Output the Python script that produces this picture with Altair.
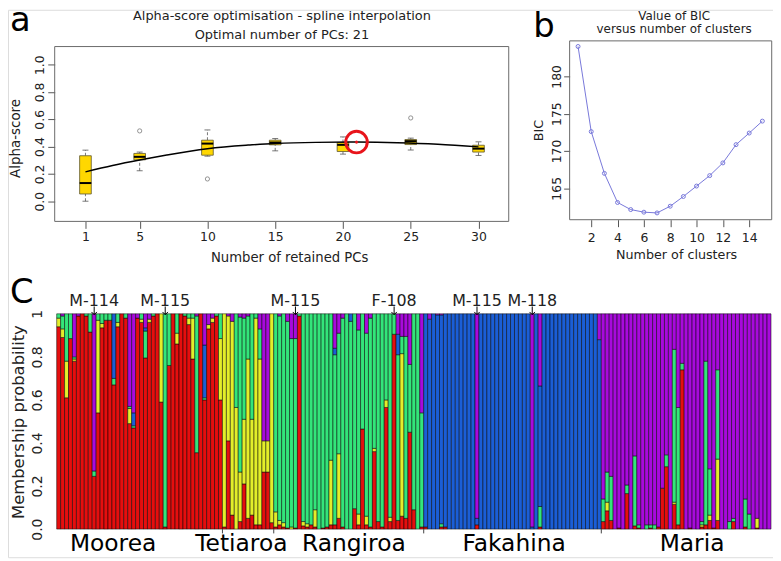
import altair as alt
import pandas as pd

W, H = 770, 551
FONT = "DejaVu Sans"
INK = "#222222"

# ---------------- panel a : alpha-score optimisation ----------------
pcs_retained = [1, 5, 10, 15, 20, 25, 30]
alpha_whisker_lo = [0.000, 0.223, 0.330, 0.369, 0.345, 0.375, 0.335]
alpha_q1 = [0.053, 0.303, 0.337, 0.413, 0.364, 0.415, 0.360]
alpha_median = [0.133, 0.325, 0.422, 0.430, 0.413, 0.440, 0.385]
alpha_q3 = [0.333, 0.350, 0.447, 0.447, 0.430, 0.452, 0.410]
alpha_whisker_hi = [0.374, 0.360, 0.522, 0.459, 0.471, 0.462, 0.435]
outlier_pc = [5, 10, 25]
outlier_alpha = [0.515, 0.163, 0.610]
spline_pc = [1, 3, 5, 7, 10, 13, 15, 18, 21, 24, 27, 30]
spline_alpha = [0.215, 0.262, 0.302, 0.338, 0.385, 0.411, 0.423, 0.431, 0.433, 0.429, 0.418, 0.398]
optimal_pc = [21]
optimal_alpha = [0.433]
title_a = ["Alpha-score optimisation - spline interpolation", "Optimal number of PCs: 21"]
alpha_ticks = [0.0, 0.2, 0.4, 0.6, 0.8, 1.0]

# ---------------- panel b : BIC ----------------
n_clusters = list(range(1, 16))
bic_values = [184.0, 172.6, 167.0, 163.1, 162.15, 161.8, 161.7, 162.6, 163.9,
              165.3, 166.7, 168.4, 170.85, 172.4, 174.0]
title_b = ["Value of BIC", "versus number of clusters"]
cluster_ticks = [2, 4, 6, 8, 10, 12, 14]
bic_ticks = [165, 170, 175, 180]

# ---------------- panel c : membership probabilities ----------------
cluster_names = ["1", "2", "3", "4", "5"]
cluster_colors = ["#E50E0E", "#E3EE2A", "#33E57A", "#1B5ED6", "#A80ADC"]
pop_names = ["Moorea", "Tetiaroa", "Rangiroa", "Fakahina", "Maria"]
pop_label_x = [14.3, 46.8, 75.3, 115.9, 161.0]
ann_text = ["M-114", "M-115", "M-115", "F-108", "M-115", "M-118"]
ann_bar = [9, 27, 60, 85, 106, 120]
prob_ticks = [0, 0.2, 0.4, 0.6, 0.8, 1.0]

R = [1, 0, 0, 0, 0]
B = [0, 0, 0, 1, 0]
P = [0, 0, 0, 0, 1]

moorea = [
    [0.94, 0.04, 0.02, 0, 0], [0.89, 0.04, 0.06, 0, 0.01], [0.61, 0.17, 0.22, 0, 0],
    [0.885, 0, 0.115, 0, 0], [0.78, 0.01, 0.01, 0, 0.20], [0.99, 0, 0, 0, 0.01], R,
    [0.99, 0, 0.01, 0, 0], [0.915, 0, 0.085, 0, 0], [0.245, 0, 0.025, 0, 0.73],
    [0.54, 0.43, 0.03, 0, 0], [0.935, 0.02, 0.045, 0, 0], [0.97, 0, 0.03, 0, 0],
    [0.97, 0, 0.03, 0, 0], [0.67, 0, 0.03, 0.30, 0], [0.94, 0.02, 0.04, 0, 0], R,
    [0.98, 0, 0.02, 0, 0], [0.49, 0.07, 0.01, 0, 0.43], [0.47, 0, 0.01, 0.06, 0.46],
    [0.98, 0, 0, 0, 0.02], [0.96, 0.015, 0.025, 0, 0], [0.795, 0, 0.125, 0.015, 0.065],
    [0.96, 0.015, 0, 0, 0.025], [0.99, 0, 0.01, 0, 0], R, [0.59, 0.41, 0, 0, 0],
    [0.01, 0, 0.99, 0, 0], [0.76, 0, 0.24, 0, 0], R, [0.86, 0.05, 0.09, 0, 0], R,
    [0.99, 0, 0.01, 0, 0], [0.95, 0.03, 0.02, 0, 0], [0.79, 0.19, 0.02, 0, 0],
    [0.355, 0, 0.635, 0, 0.01], R, [0.60, 0, 0.01, 0.245, 0.145], [0.93, 0.02, 0, 0, 0.05],
    [0.96, 0.02, 0, 0, 0.02], [0.99, 0, 0.01, 0, 0], [0.60, 0.285, 0.115, 0, 0],
]
tetiaroa = [
    [0.01, 0.99, 0, 0, 0], [0.41, 0.58, 0, 0, 0.01], [0.065, 0.90, 0, 0, 0.035],
    [0, 0.565, 0.435, 0, 0], [0.035, 0.23, 0.72, 0, 0.015], [0.21, 0.30, 0.47, 0, 0.02],
    [0.05, 0.74, 0.20, 0, 0.01], [0.065, 0.445, 0.49, 0, 0], [0.02, 0.96, 0.02, 0, 0],
    [0.02, 0.77, 0.14, 0, 0.07], [0.265, 0.145, 0, 0, 0.59], [0.265, 0.145, 0, 0, 0.59],
    [0.03, 0.97, 0, 0, 0],
]
rangiroa = [
    [0.01, 0.07, 0.92, 0, 0], [0.02, 0.02, 0.95, 0, 0.01], [0.01, 0.02, 0.97, 0, 0],
    [0.005, 0, 0.96, 0, 0.035], [0, 0.01, 0.875, 0, 0.115], [0.005, 0, 0.88, 0, 0.115],
    [0.99, 0, 0.01, 0, 0], [0.015, 0.02, 0.965, 0, 0], [0.01, 0.015, 0.975, 0, 0],
    [0.02, 0, 0.98, 0, 0], [0.01, 0.08, 0.91, 0, 0], [0, 0, 1, 0, 0],
    [0.005, 0, 0.995, 0, 0], [0.01, 0, 0.99, 0, 0], [0.02, 0.30, 0.68, 0, 0],
    [0.02, 0, 0.79, 0.03, 0.16], [0.05, 0.30, 0.56, 0, 0.09], [0.01, 0, 0.97, 0, 0.02],
    [0, 0, 1, 0, 0], [0, 0, 0.965, 0.035, 0], [0.095, 0, 0.905, 0, 0],
    [0.02, 0.05, 0.855, 0, 0.075], [0.465, 0, 0.535, 0, 0], [0.02, 0.04, 0.85, 0, 0.09],
    [0.01, 0, 0.97, 0, 0.02], [0.36, 0.015, 0.625, 0, 0], [0.035, 0, 0.965, 0, 0],
    [0.01, 0, 0.99, 0, 0], [0.565, 0.035, 0.40, 0, 0], [0.035, 0.02, 0.945, 0, 0],
    [0.905, 0, 0.095, 0, 0], [0.04, 0, 0.77, 0.095, 0.095], [0.06, 0.755, 0.08, 0, 0.105],
    [0.05, 0, 0.845, 0, 0.105], [0.45, 0, 0.315, 0, 0.235], [0.09, 0, 0.91, 0, 0],
    [0, 0, 1, 0, 0], [0.01, 0, 0.53, 0, 0.46],
]
fakahina = [
    [0.01, 0, 0, 0.99, 0], [0, 0, 0, 0.975, 0.025], B, [0, 0, 0, 0.995, 0.005],
    [0.01, 0, 0.015, 0.97, 0.005], [0.01, 0, 0, 0.99, 0],
    B, B, B, B, B, B, B,
    [0.02, 0, 0, 0.03, 0.95],
    B, B, B, B, B, B, B, B, B, B, B, B, B,
    [0, 0, 0, 0.01, 0.99], B, [0.01, 0, 0.095, 0.56, 0.335],
    B, B, B, B, B, B, B, B, B, B, B, B, B, B,
    [0, 0, 0, 0.88, 0.12],
]
maria = [
    [0.035, 0, 0.105, 0, 0.86], [0.085, 0.04, 0.14, 0, 0.735], [0.04, 0, 0.205, 0, 0.755],
    P, [0.005, 0, 0, 0, 0.995], P, [0.165, 0, 0.04, 0, 0.795], P,
    [0.015, 0, 0.325, 0, 0.66], [0.005, 0, 0.015, 0, 0.98], P, [0, 0, 0.02, 0, 0.98],
    [0.005, 0, 0.015, 0, 0.98], [0, 0, 0.02, 0, 0.98], [0.01, 0, 0, 0, 0.99],
    [0.19, 0, 0, 0, 0.81], [0.29, 0, 0.055, 0, 0.655], P, [0.115, 0.01, 0.71, 0, 0.165],
    [0.02, 0, 0.545, 0, 0.435], [0.74, 0, 0.03, 0, 0.23], P, [0.005, 0, 0, 0, 0.995], P, P,
    [0.01, 0.01, 0.015, 0, 0.965], [0.02, 0, 0.76, 0, 0.22], [0.04, 0.025, 0.215, 0, 0.72],
    [0.005, 0, 0, 0, 0.995], [0.04, 0.285, 0.415, 0, 0.26], P, P, [0, 0, 0.035, 0, 0.965],
    [0.035, 0, 0.015, 0, 0.95], P, P, [0.01, 0, 0.13, 0, 0.86], [0, 0, 0.07, 0, 0.93], P,
    [0.005, 0.045, 0, 0, 0.95], P, P, P,
]
populations = [moorea, tetiaroa, rangiroa, fakahina, maria]

# ---------------- scales (pixel ranges place each panel) ----------------
A_X = alt.Scale(domain=[-1.27, 32.23], range=[47, 504], nice=False, zero=False)
A_Y = alt.Scale(domain=[-0.148, 1.133], range=[213, 37], nice=False, zero=False)
B_X = alt.Scale(domain=[0.36, 15.71], range=[565.3, 768.7], nice=False, zero=False)
B_Y = alt.Scale(domain=[160.79, 184.75], range=[211.3, 31.3], nice=False, zero=False)
n_bars = sum(len(p) for p in populations)
C_X = alt.Scale(domain=[0, n_bars], range=[49, 768], nice=False, zero=False)
C_Y = alt.Scale(domain=[0, 1], range=[522.7, 306], nice=False, zero=False)


def enc(xs, ys, x, y, x2=None, y2=None, xaxis=None, yaxis=None, **extra):
    e = dict(x=alt.X(x, type="quantitative", scale=xs, axis=xaxis),
             y=alt.Y(y, type="quantitative", scale=ys, axis=yaxis))
    if x2:
        e["x2"] = alt.X2(x2)
    if y2:
        e["y2"] = alt.Y2(y2)
    e.update(extra)
    return e


common_axis = dict(domain=False, grid=False, labelColor=INK, labelFont=FONT,
                   labelFlush=False, labelOverlap=False, tickColor="#555555",
                   titleColor=INK, titleFont=FONT, titleFontWeight="normal")

# ---------------- panel a layers ----------------
box_df = pd.DataFrame({"pc": pcs_retained, "lo": alpha_whisker_lo, "q1": alpha_q1,
                       "med": alpha_median, "q3": alpha_q3, "hi": alpha_whisker_hi})
box_df["left"] = box_df["pc"] - 0.43
box_df["right"] = box_df["pc"] + 0.43
box_df["cl"] = box_df["pc"] - 0.22
box_df["cr"] = box_df["pc"] + 0.22

frame_a = pd.DataFrame({"x0": [A_X.domain[0]], "x1": [A_X.domain[1]],
                        "y0": [A_Y.domain[0]], "y1": [A_Y.domain[1]]})
axA_x = alt.Axis(values=pcs_retained, orient="bottom", offset=213 - H, tickSize=7,
                 labelFontSize=12.5, labelPadding=2, title="Number of retained PCs",
                 titleFontSize=13.3, titleX=283, titleY=36, titleBaseline="middle",
                 titleAlign="center", **common_axis)
axA_y = alt.Axis(values=alpha_ticks, format=".1f", orient="left", offset=-47, tickSize=7,
                 labelAngle=270, labelAlign="center", labelBaseline="bottom",
                 labelFontSize=12.5, labelPadding=1, title="Alpha-score", titleFontSize=13.5,
                 titleAngle=270, titleX=-39.5, titleY=129, titleAlign="center",
                 titleBaseline="middle", **common_axis)

layers = []
layers.append(alt.Chart(frame_a).mark_rect(fillOpacity=0, stroke="#6a6a6a", strokeWidth=1)
              .encode(**enc(A_X, A_Y, "x0", "y0", "x1", "y1", xaxis=axA_x, yaxis=axA_y)))
layers.append(alt.Chart(box_df).mark_rule(color="#555555", strokeDash=[3, 2], strokeWidth=0.8)
              .encode(**enc(A_X, A_Y, "pc", "lo", None, "q1")))
layers.append(alt.Chart(box_df).mark_rule(color="#555555", strokeDash=[3, 2], strokeWidth=0.8)
              .encode(**enc(A_X, A_Y, "pc", "q3", None, "hi")))
layers.append(alt.Chart(box_df).mark_rule(color="#555555", strokeWidth=0.8)
              .encode(**enc(A_X, A_Y, "cl", "lo", "cr")))
layers.append(alt.Chart(box_df).mark_rule(color="#555555", strokeWidth=0.8)
              .encode(**enc(A_X, A_Y, "cl", "hi", "cr")))
layers.append(alt.Chart(box_df).mark_rect(fill="#FFD700", stroke="#5e5630", strokeWidth=0.8)
              .encode(**enc(A_X, A_Y, "left", "q1", "right", "q3")))
layers.append(alt.Chart(box_df).mark_rule(color="black", strokeWidth=2)
              .encode(**enc(A_X, A_Y, "left", "med", "right")))
out_df = pd.DataFrame({"pc": outlier_pc, "a": outlier_alpha})
layers.append(alt.Chart(out_df).mark_point(shape="circle", filled=False, size=18,
                                            color="#444444", strokeWidth=0.8)
              .encode(**enc(A_X, A_Y, "pc", "a")))
spl_df = pd.DataFrame({"pc": spline_pc, "a": spline_alpha})
layers.append(alt.Chart(spl_df).mark_line(interpolate="natural", color="black", strokeWidth=1.5)
              .encode(**enc(A_X, A_Y, "pc", "a")))
opt_df = pd.DataFrame({"pc": optimal_pc, "a": optimal_alpha})
layers.append(alt.Chart(opt_df).mark_point(shape="circle", filled=False, size=470,
                                            color="#E8141B", strokeWidth=3, opacity=1)
              .encode(**enc(A_X, A_Y, "pc", "a")))
layers.append(alt.Chart(opt_df).mark_point(shape="circle", filled=True, size=10,
                                            color="#E8141B", opacity=1)
              .encode(**enc(A_X, A_Y, "pc", "a")))
ta_df = pd.DataFrame({"x": [15.5, 15.5], "y": [1.355, 1.216], "t": title_a})
layers.append(alt.Chart(ta_df).mark_text(fontSize=13, color=INK, align="center", baseline="middle")
              .encode(**enc(A_X, A_Y, "x", "y", text="t:N")))
la_df = pd.DataFrame({"x": [-4.57], "y": [1.245], "t": ["a"]})
layers.append(alt.Chart(la_df).mark_text(fontSize=34, color="black", align="left", baseline="alphabetic")
              .encode(**enc(A_X, A_Y, "x", "y", text="t:N")))

# ---------------- panel b layers ----------------
frame_b = pd.DataFrame({"x0": [B_X.domain[0]], "x1": [B_X.domain[1]],
                        "y0": [B_Y.domain[0]], "y1": [B_Y.domain[1]]})
axB_x = alt.Axis(values=cluster_ticks, orient="bottom", offset=211.3 - H, tickSize=7,
                 labelFontSize=12.5, labelPadding=5, title="Number of clusters",
                 titleFontSize=12.8, titleX=672.5, titleY=35, titleBaseline="middle",
                 titleAlign="center", **common_axis)
axB_y = alt.Axis(values=bic_ticks, orient="left", offset=-565.3, tickSize=6,
                 labelAngle=270, labelAlign="center", labelBaseline="bottom",
                 labelFontSize=12.5, labelPadding=0, title="BIC", titleFontSize=12.9,
                 titleAngle=270, titleX=-31.6, titleY=121, titleAlign="center",
                 titleBaseline="middle", **common_axis)
layers.append(alt.Chart(frame_b).mark_rect(fillOpacity=0, stroke="#6a6a6a", strokeWidth=1)
              .encode(**enc(B_X, B_Y, "x0", "y0", "x1", "y1", xaxis=axB_x, yaxis=axB_y)))
bic_df = pd.DataFrame({"k": n_clusters, "bic": bic_values})
layers.append(alt.Chart(bic_df).mark_line(color="#7878DA", strokeWidth=1)
              .encode(**enc(B_X, B_Y, "k", "bic")))
layers.append(alt.Chart(bic_df).mark_point(shape="circle", filled=False, size=16,
                                            color="#7878DA", strokeWidth=1, opacity=1)
              .encode(**enc(B_X, B_Y, "k", "bic")))
tb_df = pd.DataFrame({"x": [8.3, 8.3], "y": [188.1, 186.35], "t": title_b})
layers.append(alt.Chart(tb_df).mark_text(fontSize=12, color=INK, align="center", baseline="middle")
              .encode(**enc(B_X, B_Y, "x", "y", text="t:N")))
lb_df = pd.DataFrame({"x": [-2.40], "y": [185.3], "t": ["b"]})
layers.append(alt.Chart(lb_df).mark_text(fontSize=34, color="black", align="left", baseline="alphabetic")
              .encode(**enc(B_X, B_Y, "x", "y", text="t:N")))

# ---------------- panel c layers ----------------
rows = []
i = 0
for bars in populations:
    for q in bars:
        tot = sum(q)
        acc = 0.0
        for k, v in enumerate(q):
            if v <= 0:
                continue
            rows.append({"x0": i, "x1": i + 1, "y0": acc / tot, "y1": (acc + v) / tot,
                         "cluster": cluster_names[k]})
            acc += v
        i += 1
bar_df = pd.DataFrame(rows)

axC_y = alt.Axis(values=prob_ticks, labelExpr="datum.value == 1 ? '1' : format(datum.value, '.1f')",
                 orient="left", offset=-47, ticks=False, tickSize=0, labelAngle=270,
                 labelAlign="center", labelBaseline="bottom", labelFontSize=14, labelPadding=10,
                 title="Membership probability", titleFontSize=16.5, titleAngle=270,
                 titleX=-36.5, titleY=414.5, titleAlign="center", titleBaseline="middle",
                 **common_axis)
layers.append(alt.Chart(bar_df).mark_rect(stroke="black", strokeWidth=0.5)
              .encode(**enc(C_X, C_Y, "x0", "y0", "x1", "y1", yaxis=axC_y,
                            color=alt.Color("cluster:N", legend=None,
                                            scale=alt.Scale(domain=cluster_names, range=cluster_colors)))))

bounds = []
s = 0
for bars in populations[:-1]:
    s += len(bars)
    bounds.append(s)
bd_df = pd.DataFrame({"b": bounds, "y0": [0.0] * len(bounds), "y1": [-0.02] * len(bounds)})
layers.append(alt.Chart(bd_df).mark_rule(color="#444444", strokeWidth=1)
              .encode(**enc(C_X, C_Y, "b", "y0", None, "y1")))

ann_df = pd.DataFrame({"xc": [b + 0.5 for b in ann_bar], "t": ann_text,
                       "yt": [1.06] * len(ann_bar), "ya": [1.034] * len(ann_bar),
                       "yb": [0.996] * len(ann_bar)})
layers.append(alt.Chart(ann_df).mark_text(fontSize=16, color=INK, align="center", baseline="middle")
              .encode(**enc(C_X, C_Y, "xc", "yt", text="t:N")))
layers.append(alt.Chart(ann_df).mark_rule(color="black", strokeWidth=1)
              .encode(**enc(C_X, C_Y, "xc", "ya", None, "yb")))
layers.append(alt.Chart(ann_df).mark_point(shape="M-1,-1L0,0L1,-1", filled=False, size=30,
                                            color="black", strokeWidth=1, opacity=1)
              .encode(**enc(C_X, C_Y, "xc", "yb")))

pl_df = pd.DataFrame({"x": pop_label_x, "y": [-0.101] * len(pop_names), "t": pop_names})
layers.append(alt.Chart(pl_df).mark_text(fontSize=23.5, color="black", align="center", baseline="alphabetic")
              .encode(**enc(C_X, C_Y, "x", "y", text="t:N")))
lc_df = pd.DataFrame({"x": [-11.83], "y": [1.051], "t": ["C"]})
layers.append(alt.Chart(lc_df).mark_text(fontSize=34, color="black", align="left", baseline="alphabetic")
              .encode(**enc(C_X, C_Y, "x", "y", text="t:N")))

chart = (alt.layer(*layers)
         .resolve_scale(x="independent", y="independent")
         .properties(width=W, height=H, padding=0, autosize=alt.AutoSizeParams(type="none"))
         .configure_view(stroke=None)
         .configure(font=FONT))

chart.save("out.html", embed_options={"renderer": "svg", "actions": False})
